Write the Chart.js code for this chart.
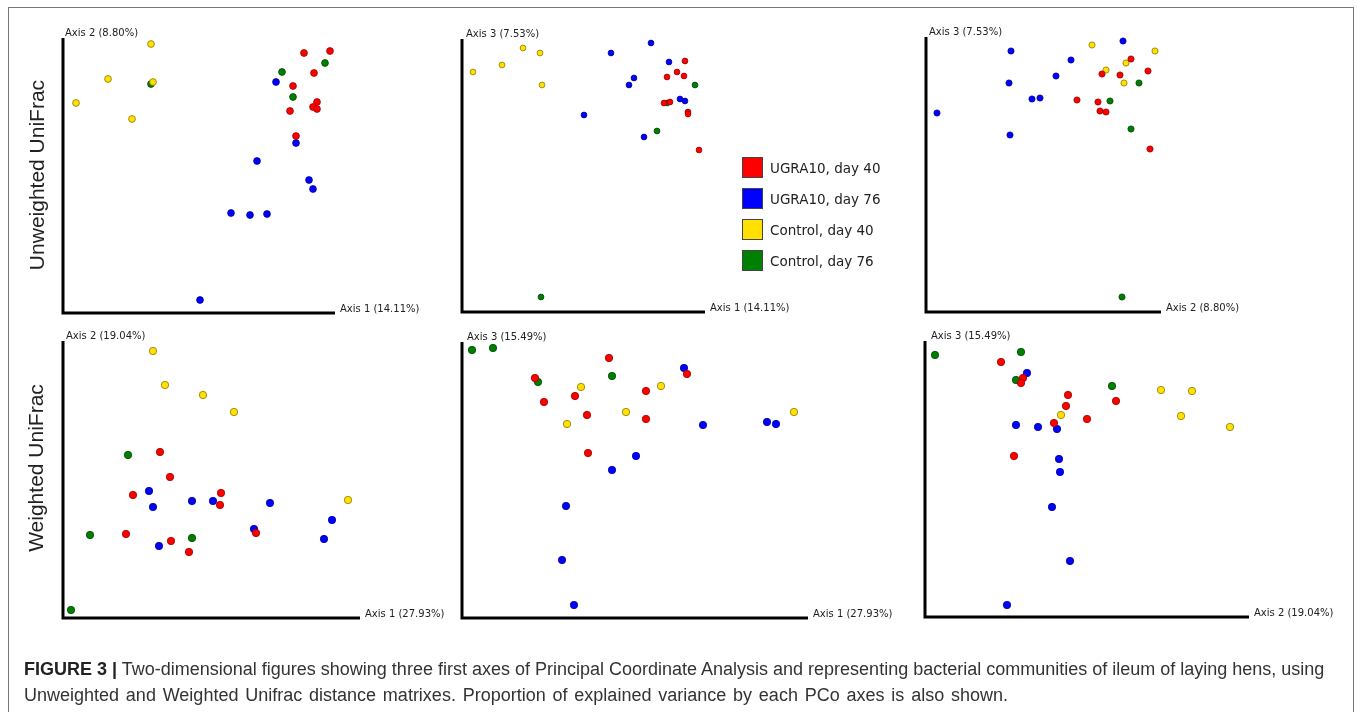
<!DOCTYPE html>
<html>
<head>
<meta charset="utf-8">
<script src="https://cdn.jsdelivr.net/npm/chart.js@4/dist/chart.umd.min.js"></script>
<style>
  body { margin: 0; background: #fff; }
  #wrap { position: relative; width: 1357px; height: 712px; overflow: hidden; background: #fff; }
  #wrap canvas { position: absolute; left: 0; top: 0; }
  #frame { position: absolute; left: 8px; top: 7px; width: 1346px; height: 720px; border: 1.5px solid #777; box-sizing: border-box; }
  .rowLabel { position: absolute; font: 21px "Liberation Sans", Arial, sans-serif; color: #222; white-space: nowrap;
              transform: translate(-50%, -50%) rotate(-90deg); }
  .leg { position: absolute; left: 742px; font: 13.5px "DejaVu Sans", Verdana, sans-serif; color: #222; white-space: nowrap; }
  .leg span { position: absolute; left: 0; top: 0; width: 21px; height: 21px; border: 1px solid #444; box-sizing: border-box; }
  .leg b { position: absolute; left: 28px; top: 10.5px; transform: translateY(-50%); font-weight: normal; }
  #caption { position: absolute; left: 24px; top: 656px; font: 18px "Liberation Sans", Arial, sans-serif; color: #333; line-height: 26px; white-space: nowrap; }
  #caption strong { color: #222; }
</style>
</head>
<body>
<div id="wrap">
  <div id="frame"></div>
  <canvas id="c1" width="1357" height="712"></canvas>
  <canvas id="c2" width="1357" height="712"></canvas>
  <canvas id="c3" width="1357" height="712"></canvas>
  <canvas id="c4" width="1357" height="712"></canvas>
  <canvas id="c5" width="1357" height="712"></canvas>
  <canvas id="c6" width="1357" height="712"></canvas>
  <div class="rowLabel" style="left:36.5px; top:174.5px;">Unweighted UniFrac</div>
  <div class="rowLabel" style="left:36px; top:467.5px;">Weighted UniFrac</div>
  <div id="legend"></div>
  <div id="caption"><strong>FIGURE 3 |</strong> Two-dimensional figures showing three first axes of Principal Coordinate Analysis and representing bacterial communities of ileum of laying hens, using<br><span style="word-spacing:1.8px">Unweighted and Weighted Unifrac distance matrixes. Proportion of explained variance by each PCo axes is also shown.</span></div>
</div>
<script>
// groups
var groupNames = ['UGRA10, day 40', 'UGRA10, day 76', 'Control, day 40', 'Control, day 76'];
var groupColors = ['#ff0000', '#0000ff', '#ffe000', '#008000'];
var groupBorders = ['#990000', '#000099', '#8a7a00', '#004400'];

// axis titles
var unweightedAxes = ['Axis 1 (14.11%)', 'Axis 2 (8.80%)', 'Axis 3 (7.53%)'];
var weightedAxes = ['Axis 1 (27.93%)', 'Axis 2 (19.04%)', 'Axis 3 (15.49%)'];

// Unweighted UniFrac, Axis 1 vs Axis 2  [x, y]
var uw12Red = [[241,260],[267,262],[251,240],[230,227],[254,211],[250,206],[254,204],[227,202],[233,177]];
var uw12Blue = [[213,231],[233,170],[194,152],[246,133],[250,124],[168,100],[187,98],[204,99],[137,13]];
var uw12Yellow = [[88,269],[45,234],[90,231],[13,210],[69,194]];
var uw12Green = [[88,229],[219,241],[262,250],[230,216]];

// Unweighted UniFrac, Axis 1 vs Axis 3
var uw13Red = [[223,251],[215,240],[222,236],[205,235],[202,209],[208,210],[226,200],[226,198],[237,162]];
var uw13Blue = [[189,269],[149,259],[207,250],[172,234],[167,227],[218,213],[223,211],[122,197],[182,175]];
var uw13Yellow = [[61,264],[78,259],[40,247],[11,240],[80,227]];
var uw13Green = [[233,227],[205,209],[195,181],[79,15]];

// Unweighted UniFrac, Axis 2 vs Axis 3
var uw23Red = [[205,253],[222,241],[176,238],[194,237],[151,212],[172,210],[174,201],[180,200],[224,163]];
var uw23Blue = [[197,271],[85,261],[145,252],[130,236],[83,229],[106,213],[114,214],[11,199],[84,177]];
var uw23Yellow = [[166,267],[229,261],[200,249],[180,242],[198,229]];
var uw23Green = [[213,229],[184,211],[205,183],[196,15]];

// Weighted UniFrac, Axis 1 vs Axis 2
var w12Red = [[97,166],[107,141],[70,123],[158,125],[157,113],[63,84],[108,77],[126,66],[193,85]];
var w12Blue = [[86,127],[90,111],[129,117],[150,117],[207,115],[191,89],[269,98],[261,79],[96,72]];
var w12Yellow = [[90,267],[102,233],[140,223],[171,206],[285,118]];
var w12Green = [[65,163],[27,83],[129,80],[8,8]];

// Weighted UniFrac, Axis 1 vs Axis 3
var w13Red = [[147,260],[73,240],[225,244],[184,227],[113,222],[82,216],[125,203],[184,199],[126,165]];
var w13Blue = [[222,250],[241,193],[305,196],[314,194],[174,162],[150,148],[104,112],[100,58],[112,13]];
var w13Yellow = [[119,231],[199,232],[164,206],[105,194],[332,206]];
var w13Green = [[10,268],[31,270],[76,236],[150,242]];

// Weighted UniFrac, Axis 2 vs Axis 3
var w23Red = [[76,255],[98,239],[96,234],[143,222],[141,211],[191,216],[162,198],[129,194],[89,161]];
var w23Blue = [[102,244],[91,192],[113,190],[132,188],[134,158],[135,145],[127,110],[145,56],[82,12]];
var w23Yellow = [[236,227],[267,226],[256,201],[305,190],[136,202]];
var w23Green = [[10,262],[96,265],[91,237],[187,231]];

var W = 1357, H = 712;

// layout of each panel: origin (x0, y0), axis ends (x1, y1)
var panels = [
    { id: 'c1', x0: 63, y0: 313, x1: 335, y1: 38, r: 3.4, tdx: 2, xt: unweightedAxes[0], yt: unweightedAxes[1], sets: [uw12Red, uw12Blue, uw12Yellow, uw12Green] },
    { id: 'c2', x0: 462, y0: 312, x1: 705, y1: 39, r: 2.9, tdx: 4, xt: unweightedAxes[0], yt: unweightedAxes[2], sets: [uw13Red, uw13Blue, uw13Yellow, uw13Green] },
    { id: 'c3', x0: 926, y0: 312, x1: 1161, y1: 37, r: 3.1, tdx: 3, xt: unweightedAxes[1], yt: unweightedAxes[2], sets: [uw23Red, uw23Blue, uw23Yellow, uw23Green] },
    { id: 'c4', x0: 63, y0: 618, x1: 360, y1: 341, r: 3.7, tdx: 3, xt: weightedAxes[0], yt: weightedAxes[1], sets: [w12Red, w12Blue, w12Yellow, w12Green] },
    { id: 'c5', x0: 462, y0: 618, x1: 808, y1: 342, r: 3.7, tdx: 5, xt: weightedAxes[0], yt: weightedAxes[2], sets: [w13Red, w13Blue, w13Yellow, w13Green] },
    { id: 'c6', x0: 925, y0: 617, x1: 1249, y1: 341, r: 3.7, tdx: 6, xt: weightedAxes[1], yt: weightedAxes[2], sets: [w23Red, w23Blue, w23Yellow, w23Green] }
];

// thick L-shaped axes + small axis titles at the ends
var pcoAxes = {
    id: 'pcoAxes',
    beforeDatasetsDraw: function (chart, args, opts) {
        var ctx = chart.ctx, a = chart.chartArea;
        ctx.save();
        ctx.strokeStyle = '#000';
        ctx.lineWidth = 3;
        ctx.lineJoin = 'miter';
        ctx.beginPath();
        ctx.moveTo(a.left, a.top);
        ctx.lineTo(a.left, a.bottom);
        ctx.lineTo(a.right, a.bottom);
        ctx.stroke();
        ctx.font = '10px "DejaVu Sans", Verdana, sans-serif';
        ctx.fillStyle = '#222';
        ctx.textBaseline = 'middle';
        ctx.textAlign = 'left';
        ctx.fillText(opts.yTitle, a.left + opts.dx, a.top - 5);
        ctx.fillText(opts.xTitle, a.right + 5, a.bottom - 4);
        ctx.restore();
    }
};

panels.forEach(function (p) {
    var datasets = [];
    for (var g = 0; g < 4; ++g) {
        datasets.push({
            label: groupNames[g],
            data: p.sets[g].map(function (pt) { return { x: pt[0], y: pt[1] }; }),
            backgroundColor: groupColors[g],
            borderColor: groupBorders[g],
            borderWidth: 0.8,
            pointRadius: p.r,
            pointHoverRadius: p.r,
            clip: false
        });
    }
    new Chart(document.getElementById(p.id), {
        type: 'scatter',
        data: { datasets: datasets },
        options: {
            responsive: false,
            animation: false,
            events: [],
            layout: { padding: { left: p.x0, top: p.y1, right: W - p.x1, bottom: H - p.y0 } },
            scales: {
                x: { display: false, min: 0, max: p.x1 - p.x0 },
                y: { display: false, min: 0, max: p.y0 - p.y1 }
            },
            plugins: {
                legend: { display: false },
                tooltip: { enabled: false },
                pcoAxes: { xTitle: p.xt, yTitle: p.yt, dx: p.tdx }
            }
        },
        plugins: [pcoAxes]
    });
});

// legend in the top row, beside the middle panel
var legendBox = document.getElementById('legend');
for (var i = 0; i < groupNames.length; ++i) {
    var row = document.createElement('div');
    row.className = 'leg';
    row.style.top = (157 + i * 31) + 'px';
    row.innerHTML = '<span style="background:' + groupColors[i] + '"></span><b>' + groupNames[i] + '</b>';
    legendBox.appendChild(row);
}
</script>
</body>
</html>
